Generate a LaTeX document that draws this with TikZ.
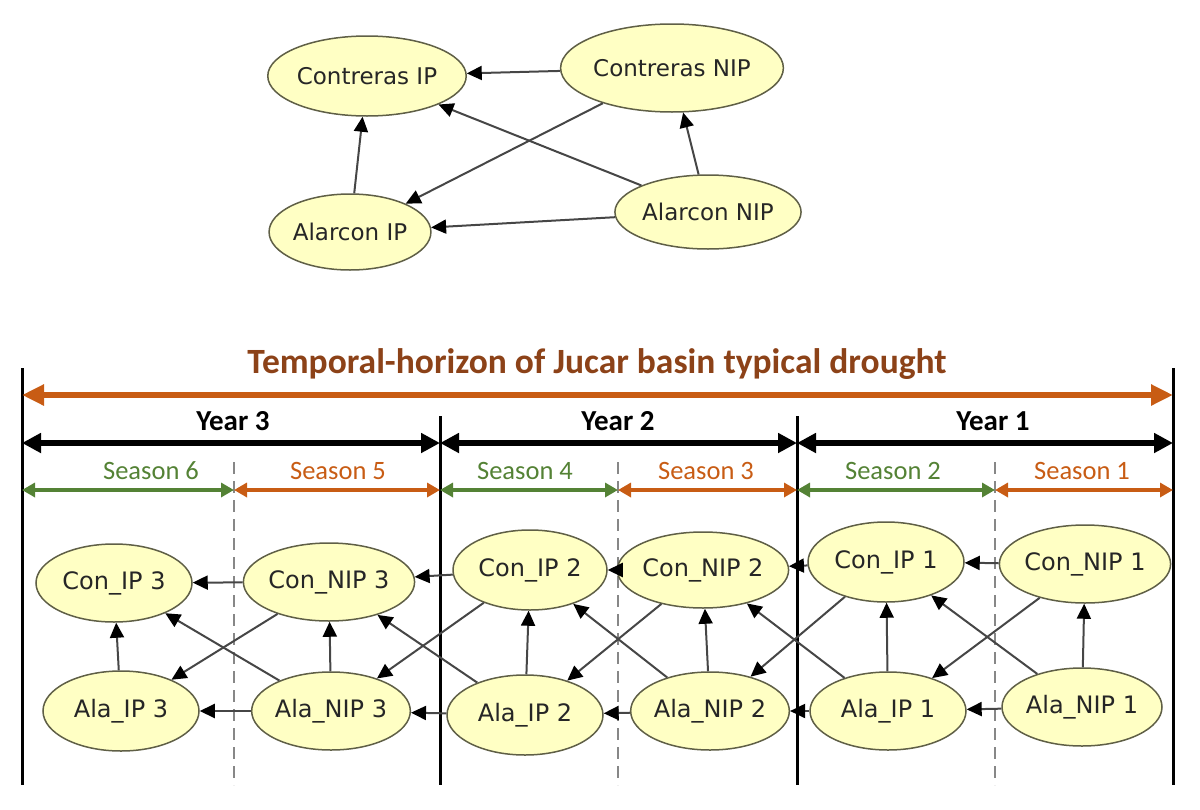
\documentclass[tikz,border=0pt]{standalone}
\usepackage{fontspec}
\usepackage{tikz}
\usetikzlibrary{shapes}
\usetikzlibrary{arrows.meta}
\newfontfamily\nodefont{DejaVu Sans}
\newfontfamily\calfont{Carlito}
\definecolor{nodefill}{RGB}{255,255,196}
\definecolor{nodeline}{RGB}{95,95,70}
\definecolor{edgecol}{RGB}{70,70,70}
\definecolor{titlebrown}{RGB}{140,66,24}
\definecolor{seasono}{RGB}{200,92,20}
\definecolor{seasong}{RGB}{84,130,53}
\definecolor{dashgray}{RGB}{135,135,135}
\tikzset{
    mynode/.style = {ellipse, line width=1.5pt, draw=nodeline, align=center, fill=nodefill, inner sep=0pt, minimum width=156pt, minimum height=78pt, font=\nodefont\fontsize{24}{28}\selectfont, text=black!85},
    mynodet/.style = {mynode, font=\nodefont\fontsize{23}{27}\selectfont},
    edgen/.style = {-{Triangle[length=15pt,width=14pt,color=black]}, line width=2pt, edgecol},
    spanh/.style = {{Triangle[length=22pt,width=20pt]}-{Triangle[length=22pt,width=20pt]}, line width=6.5pt, seasono},
    spanb/.style = {{Triangle[length=19pt,width=19pt]}-{Triangle[length=19pt,width=19pt]}, line width=6pt, black},
    spano/.style = {{Triangle[length=13pt,width=14pt]}-{Triangle[length=13pt,width=14pt]}, line width=4pt, seasono},
    spang/.style = {{Triangle[length=13pt,width=14pt]}-{Triangle[length=13pt,width=14pt]}, line width=4pt, seasong},
    vline/.style = {line width=3pt, black},
    vdash/.style = {line width=2.5pt, dashgray, dash pattern=on 12pt off 7pt},
    yearlab/.style = {anchor=base, font=\calfont\bfseries\fontsize{29}{34}\selectfont},
    seasonlab/.style = {anchor=base, font=\calfont\fontsize{26.5}{31}\selectfont}
}

\begin{document}
\begin{tikzpicture}[x=1pt,y=-1pt]
\useasboundingbox (0,0) rectangle (1200,809);

% static network
\node[mynodet, minimum width=166pt, minimum height=80pt] at (367,76) (cip) {Contreras IP};
\node[mynodet, minimum width=196pt, minimum height=88pt] at (672,68) (cnip) {Contreras NIP};
\node[mynodet, minimum width=146pt, minimum height=76pt] at (350,232) (aip) {Alarcon IP};
\node[mynodet, minimum width=150pt, minimum height=74pt] at (708,212) (anip) {Alarcon NIP};

\draw[edgen] (cnip) -- (cip);
\draw[edgen] (aip) -- (cip);
\draw[edgen] (anip) -- (cip);
\draw[edgen] (cnip) -- (aip);
\draw[edgen] (anip) -- (aip);
\draw[edgen] (anip) -- (cnip);

% time axis
\node[anchor=base, font=\calfont\bfseries\fontsize{35.5}{40}\selectfont, text=titlebrown] at (597,373) (title) {Temporal-horizon of Jucar basin typical drought};
\draw[vline] (22,368) -- (22,785);
\draw[vline] (1173,368) -- (1173,785);
\draw[vline] (440,416) -- (440,785);
\draw[vline] (797,416) -- (797,785);
\draw[vdash] (234,462) -- (234,785);
\draw[vdash] (618,462) -- (618,785);
\draw[vdash] (995,462) -- (995,785);

\draw[spanh] (22,395) -- (1173,395);

\node[yearlab] at (233,430) (y3) {Year 3};
\node[yearlab] at (618,430) (y2) {Year 2};
\node[yearlab] at (993,430) (y1) {Year 1};
\draw[spanb] (22,443) -- (440,443);
\draw[spanb] (440,443) -- (797,443);
\draw[spanb] (797,443) -- (1173,443);

\node[seasonlab, text=seasong] at (151,479) (s6) {Season 6};
\node[seasonlab, text=seasono] at (338,479) (s5) {Season 5};
\node[seasonlab, text=seasong] at (525,479) (s4) {Season 4};
\node[seasonlab, text=seasono] at (706,479) (s3) {Season 3};
\node[seasonlab, text=seasong] at (893,479) (s2) {Season 2};
\node[seasonlab, text=seasono] at (1082,479) (s1) {Season 1};
\draw[spang] (22,490) -- (234,490);
\draw[spano] (234,490) -- (440,490);
\draw[spang] (440,490) -- (618,490);
\draw[spano] (618,490) -- (797,490);
\draw[spang] (797,490) -- (995,490);
\draw[spano] (995,490) -- (1173,490);

% unrolled network
\node[mynode] at (114,583) (cip3) {Con\_IP 3};
\node[mynode] at (329,582) (cnip3) {Con\_NIP 3};
\node[mynode, minimum height=80pt] at (121,711) (aip3) {Ala\_IP 3};
\node[mynode] at (331,711) (anip3) {Ala\_NIP 3};
\node[mynode, minimum width=154pt, minimum height=80pt] at (530,570) (cip2) {Con\_IP 2};
\node[mynode, minimum width=160pt, minimum height=76pt] at (703,570) (cnip2) {Con\_NIP 2};
\node[mynode, minimum height=80pt] at (525,715) (aip2) {Ala\_IP 2};
\node[mynode] at (710,711) (anip2) {Ala\_NIP 2};
\node[mynode, minimum height=80pt] at (886,562) (cip1) {Con\_IP 1};
\node[mynode] at (1085,564) (cnip1) {Con\_NIP 1};
\node[mynode] at (888,711) (aip1) {Ala\_IP 1};
\node[mynode, minimum width=160pt] at (1082,707) (anip1) {Ala\_NIP 1};

\draw[edgen] (aip1) -- (cip1);
\draw[edgen] (anip1) -- (cnip1);
\draw[edgen] (cnip1) -- (cip1);
\draw[edgen] (anip1) -- (aip1);
\draw[edgen] (anip1) -- (cip1);
\draw[edgen] (cnip1) -- (aip1);

\draw[edgen] (cip1) -- (cnip2);
\draw[edgen] (aip1) -- (anip2);
\draw[edgen] (aip1) -- (cnip2);
\draw[edgen] (cip1) -- (anip2);

\draw[edgen] (aip2) -- (cip2);
\draw[edgen] (anip2) -- (cnip2);
\draw[edgen] (cnip2) -- (cip2);
\draw[edgen] (anip2) -- (aip2);
\draw[edgen] (anip2) -- (cip2);
\draw[edgen] (cnip2) -- (aip2);

\draw[edgen] (cip2) -- (cnip3);
\draw[edgen] (aip2) -- (anip3);
\draw[edgen] (aip2) -- (cnip3);
\draw[edgen] (cip2) -- (anip3);

\draw[edgen] (aip3) -- (cip3);
\draw[edgen] (anip3) -- (cnip3);
\draw[edgen] (cnip3) -- (cip3);
\draw[edgen] (anip3) -- (aip3);
\draw[edgen] (anip3) -- (cip3);
\draw[edgen] (cnip3) -- (aip3);

\end{tikzpicture}
\end{document}
